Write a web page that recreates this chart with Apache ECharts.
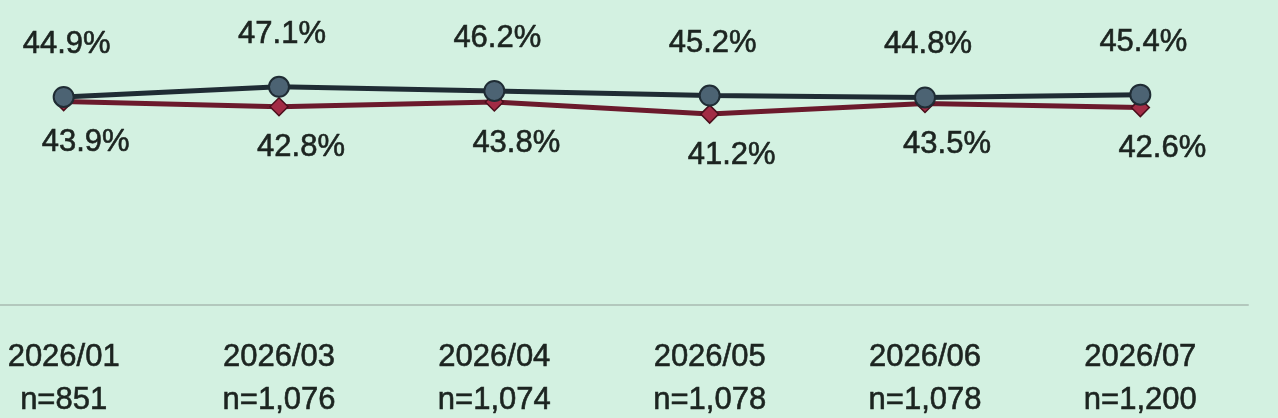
<!DOCTYPE html>
<html>
<head>
<meta charset="utf-8">
<script src="https://cdn.jsdelivr.net/npm/echarts@6/dist/echarts.min.js"></script>
<style>
html,body{margin:0;padding:0;background:#d3f1e1;}
#c{width:1278px;height:418px;}
</style>
</head>
<body>
<div id="c"></div>
<script>
const months = ["2026/01","2026/03","2026/04","2026/05","2026/06","2026/07"];
const sampleSizes = ["n=851","n=1,076","n=1,074","n=1,078","n=1,078","n=1,200"];
const seriesA = [44.9, 47.1, 46.2, 45.2, 44.8, 45.4];
const seriesB = [43.9, 42.8, 43.8, 41.2, 43.5, 42.6];

const categories = months.map((m, i) => m + "\n" + sampleSizes[i]);
const FONT = "'Liberation Sans', Arial, sans-serif";
const TXT = '#1c2420';
const chart = echarts.init(document.getElementById('c'));
chart.setOption({
  backgroundColor: '#d3f1e1',
  animation: false,
  grid: {left: -44, right: 30, top: 27, bottom: 113, outerBoundsMode: 'none', containLabel: false},
  xAxis: {
    type: 'category',
    data: categories,
    boundaryGap: true,
    axisLine: {show: true, lineStyle: {color: '#b3c8bd', width: 2}},
    axisTick: {show: false},
    axisLabel: {
      interval: 0, margin: 31, color: TXT,
      fontFamily: FONT, fontSize: 31, lineHeight: 43,
      textBorderColor: TXT, textBorderWidth: 0.6
    }
  },
  yAxis: {
    type: 'value', min: 0, max: 60,
    show: false, splitLine: {show: false}
  },
  series: [
    {
      name: 'B', type: 'line', data: seriesB,
      symbol: 'diamond', symbolSize: 18,
      lineStyle: {color: '#6b1a2c', width: 5},
      itemStyle: {color: '#a22c45', borderColor: '#4a0f1c', borderWidth: 1.5},
      label: {
        show: true, position: 'bottom', distance: 16, offset: [22, 0],
        formatter: p => p.value.toFixed(1) + '%',
        color: TXT, fontFamily: FONT, fontSize: 31,
        textBorderColor: TXT, textBorderWidth: 0.6
      },
      z: 2
    },
    {
      name: 'A', type: 'line', data: seriesA,
      symbol: 'circle', symbolSize: 20,
      lineStyle: {color: '#1f2c34', width: 5},
      itemStyle: {color: '#4c6373', borderColor: '#1f2c34', borderWidth: 2},
      label: {
        show: true, position: 'top', distance: 26, offset: [3, 0],
        formatter: p => p.value.toFixed(1) + '%',
        color: TXT, fontFamily: FONT, fontSize: 31,
        textBorderColor: TXT, textBorderWidth: 0.6
      },
      z: 3
    }
  ]
});
</script>
</body>
</html>
